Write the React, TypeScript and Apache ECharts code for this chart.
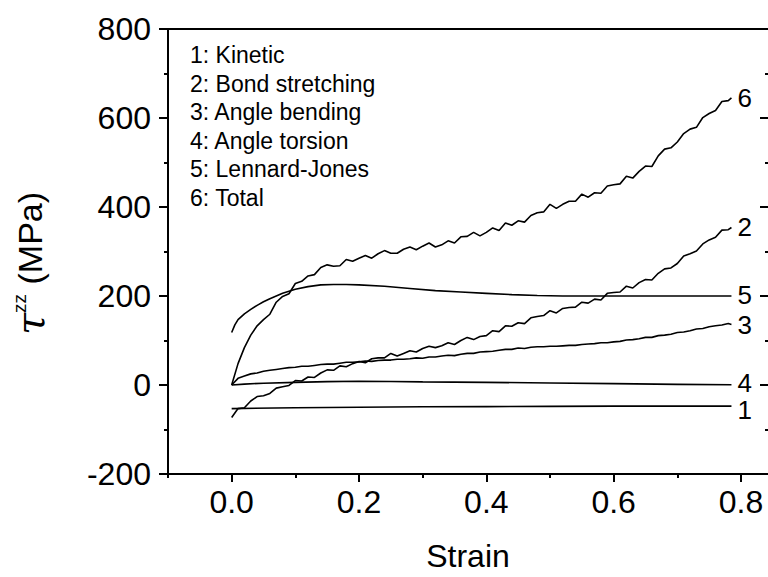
import React, { useEffect, useRef } from "react";
import * as echarts from "echarts";

const strain = [
  0, 0.01, 0.02, 0.03, 0.04, 0.05, 0.06, 0.07, 0.08, 0.09,
  0.1, 0.11, 0.12, 0.13, 0.14, 0.15, 0.16, 0.17, 0.18, 0.19,
  0.2, 0.21, 0.22, 0.23, 0.24, 0.25, 0.26, 0.27, 0.28, 0.29,
  0.3, 0.31, 0.32, 0.33, 0.34, 0.35, 0.36, 0.37, 0.38, 0.39,
  0.4, 0.41, 0.42, 0.43, 0.44, 0.45, 0.46, 0.47, 0.48, 0.49,
  0.5, 0.51, 0.52, 0.53, 0.54, 0.55, 0.56, 0.57, 0.58, 0.59,
  0.6, 0.61, 0.62, 0.63, 0.64, 0.65, 0.66, 0.67, 0.68, 0.69,
  0.7, 0.71, 0.72, 0.73, 0.74, 0.75, 0.76, 0.77, 0.78, 0.785,
];

const total = [
  0, 48, 84, 112, 133, 147, 159, 186, 199, 205,
  228, 233, 245, 248, 264, 270, 267, 268, 282, 278,
  285, 291, 285, 295, 302, 296, 296, 305, 310, 304,
  312, 319, 310, 315, 324, 319, 333, 334, 343, 335,
  343, 353, 347, 364, 359, 369, 366, 381, 387, 389,
  406, 397, 406, 413, 413, 429, 422, 432, 431, 447,
  450, 452, 469, 465, 480, 492, 491, 515, 530, 533,
  546, 565, 575, 579, 601, 610, 617, 637, 639, 645,
];

const bond = [
  -73, -53, -51, -36, -26, -24, -19, -7, -4, -1,
  10, 9, 18, 17, 27, 34, 33, 43, 41, 48,
  53, 50, 59, 61, 61, 71, 65, 71, 77, 74,
  82, 87, 84, 88, 95, 91, 100, 107, 102, 109,
  111, 122, 120, 133, 132, 140, 138, 151, 154, 156,
  167, 162, 172, 174, 175, 186, 184, 193, 191, 206,
  208, 209, 222, 218, 230, 237, 236, 251, 261, 263,
  273, 290, 295, 301, 317, 326, 332, 348, 349, 354,
];

const angleBending = [
  0, 15, 20, 25, 27, 31, 33, 35, 37, 39,
  40, 42, 42, 44, 46, 47, 47, 49, 51, 51,
  52, 54, 53, 55, 56, 56, 58, 58, 59, 61,
  60, 63, 63, 65, 67, 66, 69, 71, 71, 74,
  75, 76, 78, 80, 80, 83, 82, 85, 86, 86,
  87, 87, 88, 89, 89, 91, 92, 93, 95, 95,
  97, 98, 101, 102, 104, 107, 107, 111, 112, 114,
  118, 119, 122, 126, 127, 131, 133, 135, 138, 136,
];

const strainLJ = [0, 0.005, 0.01, 0.02, 0.03, 0.04, 0.05, 0.06, 0.08, 0.1, 0.12, 0.14, 0.16, 0.18, 0.2, 0.24, 0.28, 0.32, 0.36, 0.4, 0.44, 0.48, 0.52, 0.56, 0.6, 0.65, 0.7, 0.75, 0.785];
const lennardJones = [118, 135, 147, 160, 170, 179, 187, 194, 206, 215, 221, 225, 226, 226, 225, 222, 217, 212, 209, 206, 203, 201, 200, 200, 200, 200, 200, 200, 200];

const strainTorsion = [0, 0.02, 0.05, 0.1, 0.15, 0.2, 0.25, 0.3, 0.4, 0.5, 0.6, 0.7, 0.785];
const torsion = [0, 2, 4, 6, 7.5, 8.5, 8, 7, 6, 4.5, 3, 1.5, 0.5];

const strainKinetic = [0, 0.1, 0.2, 0.3, 0.4, 0.5, 0.6, 0.7, 0.785];
const kinetic = [-53, -51, -50, -49, -48.5, -48, -47.5, -47.5, -47.5];

const legendLines = [
  "1: Kinetic",
  "2: Bond stretching",
  "3: Angle bending",
  "4: Angle torsion",
  "5: Lennard-Jones",
  "6: Total",
];
const curveIds = ["1", "2", "3", "4", "5", "6"];

const xMajor = [0, 0.2, 0.4, 0.6, 0.8];
const xMinor = [-0.1, 0.1, 0.3, 0.5, 0.7];
const yMajor = [-200, 0, 200, 400, 600, 800];
const yMinor = [-100, 100, 300, 500, 700];

const FONT = '"Liberation Sans", Arial, sans-serif';

const zip = (xs: number[], ys: number[]) => xs.map((x, i) => [x, ys[i]]);

export default function App() {
  const ref = useRef<HTMLDivElement>(null);
  useEffect(() => {
    if (!ref.current) return;
    const chart = echarts.init(ref.current, undefined, { renderer: "svg" });
    const black = "#000";
    const mk = (id: string, data: number[][], dy: number) => ({
      type: "line",
      name: id,
      data,
      xAxisIndex: 0,
      yAxisIndex: 0,
      showSymbol: false,
      symbol: "none",
      lineStyle: { color: black, width: 1.6 },
      endLabel: {
        show: true,
        formatter: id,
        fontSize: 26,
        lineHeight: 20,
        fontFamily: FONT,
        color: black,
        distance: 6,
        offset: [0, dy],
      },
      z: 3,
    });
    const series = [
      mk(curveIds[0], zip(strainKinetic, kinetic), 4),
      mk(curveIds[1], zip(strain, bond), 0),
      mk(curveIds[2], zip(strain, angleBending), 1),
      mk(curveIds[3], zip(strainTorsion, torsion), -2),
      mk(curveIds[4], zip(strainLJ, lennardJones), -1),
      mk(curveIds[5], zip(strain, total), 0),
    ];
    const xmin = -0.1;
    const xmax = 0.8424;
    chart.setOption({
      animation: false,
      backgroundColor: "#fff",
      grid: { left: 168, top: 29, width: 600, height: 450 },
      xAxis: [
        {
          type: "value",
          position: "bottom",
          min: xmin,
          max: xmax,
          axisLine: { show: true, onZero: false, lineStyle: { color: black, width: 2 } },
          axisTick: { show: true, customValues: xMajor, length: 8, lineStyle: { color: black, width: 2 } },
          axisLabel: {
            show: true,
            customValues: xMajor,
            formatter: (v: number) => v.toFixed(1),
            fontSize: 32,
            fontFamily: FONT,
            color: black,
            margin: 12,
          },
          splitLine: { show: false },
          name: "Strain",
          nameLocation: "middle",
          nameGap: 66,
          nameTextStyle: { fontSize: 32, fontFamily: FONT, color: black },
        },
        {
          type: "value",
          position: "bottom",
          min: xmin,
          max: xmax,
          axisLine: { show: false, onZero: false },
          axisTick: { show: true, customValues: xMinor, length: 4, lineStyle: { color: black, width: 2 } },
          axisLabel: { show: false },
          splitLine: { show: false },
        },
        {
          type: "value",
          position: "top",
          min: xmin,
          max: xmax,
          axisLine: { show: true, onZero: false, lineStyle: { color: black, width: 2 } },
          axisTick: { show: false },
          axisLabel: { show: false },
          splitLine: { show: false },
        },
      ],
      yAxis: [
        {
          type: "value",
          position: "left",
          min: -200,
          max: 800,
          axisLine: { show: true, onZero: false, lineStyle: { color: black, width: 2 } },
          axisTick: { show: true, customValues: yMajor, length: 9, lineStyle: { color: black, width: 2 } },
          axisLabel: {
            show: true,
            customValues: yMajor,
            fontSize: 32,
            fontFamily: FONT,
            color: black,
            margin: 17,
          },
          splitLine: { show: false },
          name: "{tau|τ}{sup|zz} (MPa)",
          nameLocation: "middle",
          nameRotate: 90,
          nameGap: 118,
          nameTextStyle: {
            fontSize: 34,
            fontFamily: FONT,
            color: black,
            padding: [0, 24, 0, 0],
            rich: {
              tau: { fontSize: 40, fontFamily: '"DejaVu Serif", serif', fontStyle: "italic", color: black },
              sup: { fontSize: 19, fontFamily: FONT, color: black, verticalAlign: "top", padding: [0, 0, 18, 0] },
            },
          },
        },
        {
          type: "value",
          position: "left",
          min: -200,
          max: 800,
          axisLine: { show: false, onZero: false },
          axisTick: { show: true, customValues: yMinor, length: 4, lineStyle: { color: black, width: 2 } },
          axisLabel: { show: false },
          splitLine: { show: false },
        },
        {
          type: "value",
          position: "right",
          min: -200,
          max: 800,
          axisLine: { show: false, onZero: false },
          axisTick: { show: true, inside: true, customValues: yMajor, length: 8, lineStyle: { color: black, width: 2 } },
          axisLabel: { show: false },
          splitLine: { show: false },
        },
        {
          type: "value",
          position: "right",
          min: -200,
          max: 800,
          axisLine: { show: false, onZero: false },
          axisTick: { show: true, inside: true, customValues: yMinor, length: 3, lineStyle: { color: black, width: 2 } },
          axisLabel: { show: false },
          splitLine: { show: false },
        },
      ],
      graphic: [
        {
          type: "text",
          x: 190,
          y: 41,
          style: {
            text: legendLines.join("\n"),
            fontSize: 23,
            fontFamily: FONT,
            lineHeight: 28.5,
            fill: black,
            verticalAlign: "top",
          },
        },
      ],
      series,
    });
    return () => chart.dispose();
  }, []);
  return (
    <div
      ref={ref}
      style={{ position: "fixed", left: 0, top: 0, width: 772, height: 577, background: "#fff" }}
    />
  );
}
